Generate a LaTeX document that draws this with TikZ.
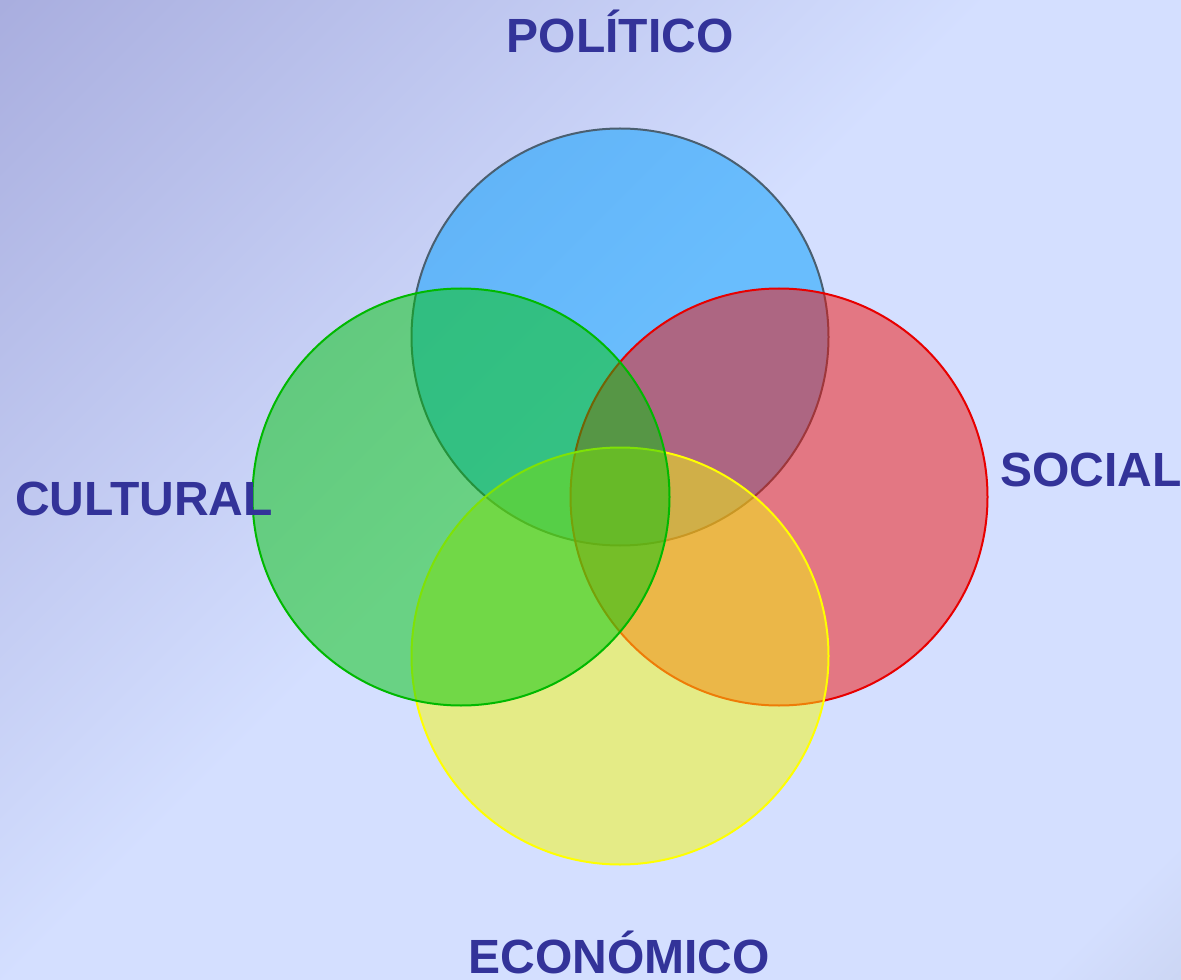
\documentclass[tikz,border=0pt]{standalone}
\usepackage{fontspec}
\setmainfont{Liberation Sans}
\usepackage{xcolor}
\usepackage{tikz}
\usetikzlibrary{positioning}
\definecolor{bgdark}{RGB}{169,174,223}
\definecolor{bglight}{RGB}{212,223,255}
\definecolor{bgend}{RGB}{204,214,244}
\definecolor{politicocolor}{RGB}{0,156,252}
\definecolor{politicoline}{RGB}{74,95,112}
\definecolor{socialcolor}{RGB}{242,16,8}
\definecolor{socialline}{RGB}{232,0,0}
\definecolor{economicocolor}{RGB}{244,248,15}
\definecolor{economicoline}{RGB}{255,255,0}
\definecolor{culturalcolor}{RGB}{0,198,10}
\definecolor{culturalline}{RGB}{0,185,0}
\definecolor{labelcolor}{RGB}{51,51,153}
\pgfdeclarehorizontalshading{bgshade}{100bp}{color(0bp)=(bgdark); color(14.6bp)=(bgdark); color(47bp)=(bglight); color(81bp)=(bglight); color(85.4bp)=(bgend); color(100bp)=(bgend)}

\begin{document}
\begin{tikzpicture}[
    x=0.75pt, y=-0.75pt,
    sphere/.style={circle, draw, line width=1.5pt, minimum size=312.75pt, inner sep=0pt, fill opacity=0.5},
    label/.style={font=\fontsize{36}{43}\selectfont\bfseries, text=labelcolor, inner sep=0pt, anchor=base}
]
    % Background
    \useasboundingbox (0,0) rectangle (1181,980);
    \shade[shading=bgshade, shading angle=-45] (0,0) rectangle (1181,980);

    % Circles
    \node[sphere, fill=politicocolor, draw=politicoline] (pol) at (620,337) {};
    \node[sphere, fill=socialcolor, draw=socialline] (soc) at (779,497) {};
    \node[sphere, fill=economicocolor, draw=economicoline] (eco) at (620,656) {};
    \node[sphere, fill=culturalcolor, draw=culturalline] (cul) at (461,497) {};

    % Labels
    \node[label] (polt) at (620,53) {POLÍTICO};
    \node[label] (soct) at (1091,486) {SOCIAL};
    \node[label] (ecot) at (619,973) {ECONÓMICO};
    \node[label] (cult) at (144,515) {CULTURAL};
\end{tikzpicture}
\end{document}
